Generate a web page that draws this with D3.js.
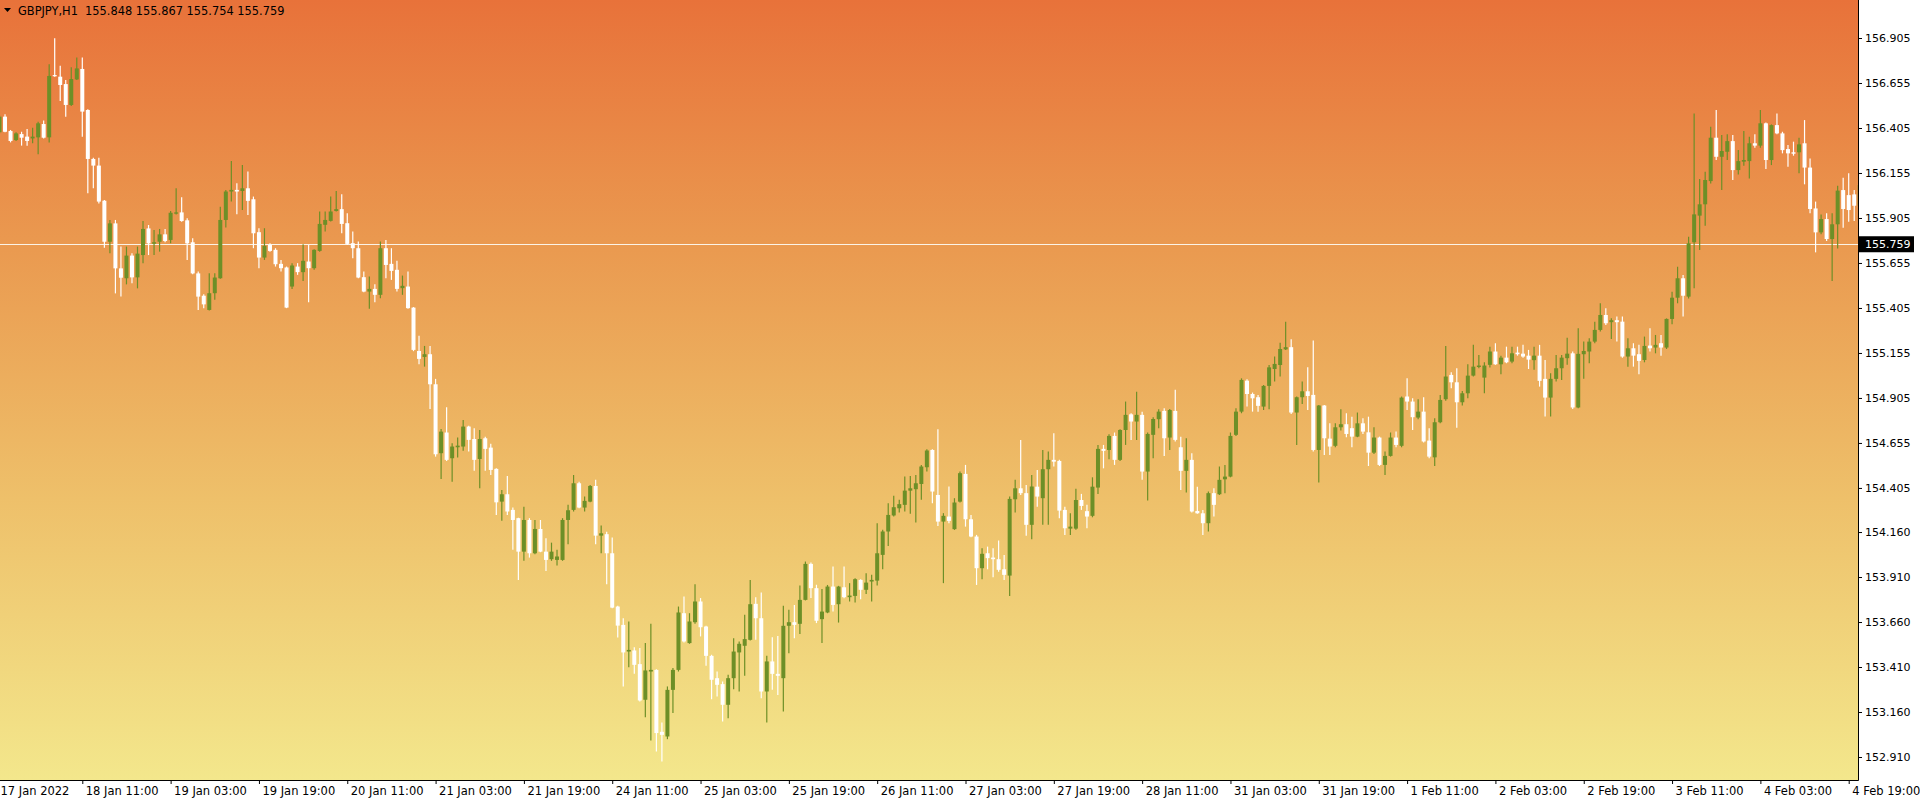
<!DOCTYPE html>
<html>
<head>
<meta charset="utf-8">
<script src="https://cdn.jsdelivr.net/npm/d3@7"></script>
<style>
  html, body { margin: 0; padding: 0; background: #ffffff; }
  svg { display: block; }
</style>
</head>
<body>
<svg id="chart" width="1920" height="802"></svg>
<script>
// #region data (GBPJPY H1, one entry per bar)
const symbolTitle = "GBPJPY,H1";
const lastBar = [155.848, 155.867, 155.754, 155.759];
const currentPrice = 155.759;

const opens = [
  156.381,156.468,156.388,156.338,156.371,156.357,156.347,156.353,156.427,156.353,
  156.699,156.690,156.649,156.533,156.675,156.733,156.505,156.233,156.196,156.001,
  155.773,155.875,155.625,155.570,155.696,155.575,155.699,155.847,155.762,155.773,
  155.814,155.783,155.929,155.936,155.892,155.770,155.597,155.473,
  155.394,155.487,155.570,155.894,156.052,156.061,156.055,156.070,156.009,155.826,
  155.685,155.755,155.728,155.650,155.630,155.524,155.635,155.604,155.663,155.626,
  155.722,155.867,155.889,155.944,155.954,155.876,155.765,155.737,155.576,155.496,
  155.511,155.478,155.737,155.650,155.617,155.515,155.524,155.407,
  155.166,155.133,155.148,154.981,154.598,154.713,154.570,154.631,154.635,154.746,
  154.677,154.566,154.681,154.629,154.511,154.329,154.370,154.283,154.237,154.051,
  154.227,154.042,154.177,154.051,154.009,154.005,154.005,154.227,154.283,154.431,
  154.296,154.329,154.416,154.140,154.148,154.042,153.746,
  153.644,153.496,153.502,153.426,153.228,153.385,153.394,153.050,153.024,153.283,
  153.394,153.709,153.543,153.659,153.774,153.635,153.472,153.348,153.315,153.200,
  153.348,153.491,153.528,153.561,153.761,153.681,153.274,153.441,153.372,153.348,
  153.639,153.659,153.650,153.783,153.983,153.848,153.676,153.713,
  153.857,153.759,153.853,153.798,153.805,153.894,153.839,153.885,153.890,154.033,
  154.163,154.252,154.292,154.311,154.390,154.398,154.427,154.520,154.616,154.366,
  154.218,154.246,154.176,154.329,154.483,154.231,154.135,153.959,154.042,154.018,
  154.009,153.953,153.918,154.342,154.403,154.376,154.200,
  154.412,154.348,154.509,154.561,154.555,154.283,154.179,154.179,154.338,154.276,
  154.250,154.407,154.622,154.616,154.694,154.561,154.727,154.814,154.774,154.811,
  154.496,154.700,154.787,154.833,154.685,154.833,154.631,154.500,154.561,154.277,
  154.264,154.209,154.376,154.370,154.453,154.468,154.700,154.829,
  155.001,154.927,154.909,154.857,154.972,155.066,155.088,155.175,155.187,154.824,
  154.909,154.942,154.922,154.616,154.863,154.679,154.639,154.742,154.759,154.737,
  154.690,154.764,154.714,154.601,154.685,154.533,154.583,154.685,154.639,154.913,
  154.885,154.796,154.829,154.668,154.575,154.770,154.898,
  155.033,154.992,154.881,154.931,155.029,155.077,155.018,155.089,155.163,155.092,
  155.129,155.107,155.157,155.151,155.140,155.115,155.140,155.011,154.907,155.011,
  155.070,155.126,155.153,154.852,155.148,155.163,155.218,155.283,155.366,155.326,
  155.337,155.329,155.135,155.181,155.148,155.116,155.196,155.185,
  155.209,155.185,155.344,155.462,155.570,155.468,155.770,155.918,155.981,156.110,
  156.351,156.245,156.273,156.332,156.171,156.218,156.221,156.320,156.307,156.431,
  156.227,156.421,156.375,156.288,156.270,156.270,156.320,156.185,155.958,155.825,
  155.899,155.788,155.870,156.060,156.032,156.036,155.973
];

const highs = [
  156.477,156.481,156.394,156.381,156.384,156.399,156.407,156.440,156.446,156.759,
  156.903,156.751,156.671,156.742,156.797,156.797,156.509,156.240,156.240,156.005,
  155.894,155.894,155.746,155.746,155.709,155.746,155.888,155.866,155.838,155.844,
  155.844,155.944,156.070,156.020,155.903,155.792,155.607,155.481,
  155.598,155.598,155.968,156.061,156.222,156.098,156.200,156.163,156.024,155.848,
  155.848,155.765,155.737,155.672,155.635,155.654,155.654,155.759,155.755,155.731,
  155.941,155.941,156.024,156.055,156.037,155.931,155.830,155.774,155.607,155.580,
  155.537,155.774,155.783,155.737,155.667,155.585,155.607,155.410,
  155.251,155.194,155.194,155.011,154.733,154.853,154.653,154.685,154.783,154.750,
  154.737,154.727,154.690,154.650,154.515,154.394,154.472,154.296,154.240,154.301,
  154.237,154.227,154.227,154.126,154.101,154.061,154.237,154.311,154.477,154.440,
  154.357,154.422,154.450,154.196,154.162,154.129,153.751,
  153.681,153.663,153.520,153.515,153.543,153.650,153.398,153.102,153.302,153.404,
  153.746,153.802,153.709,153.870,153.793,153.639,153.478,153.385,153.330,153.367,
  153.570,153.552,153.700,153.894,153.798,153.824,153.472,153.576,153.583,153.750,
  153.728,153.755,153.863,153.996,153.991,153.867,153.843,153.866,
  153.968,153.861,153.968,153.876,153.903,153.898,153.931,153.922,154.209,154.172,
  154.320,154.361,154.339,154.468,154.472,154.477,154.533,154.620,154.620,154.731,
  154.265,154.413,154.348,154.496,154.533,154.255,154.144,154.070,154.079,154.070,
  154.113,154.033,154.357,154.450,154.672,154.422,154.477,
  154.505,154.616,154.607,154.709,154.561,154.301,154.264,154.400,154.372,154.311,
  154.464,154.644,154.644,154.703,154.713,154.731,154.885,154.820,154.940,154.829,
  154.713,154.798,154.842,154.848,154.844,154.950,154.690,154.681,154.598,154.412,
  154.283,154.385,154.403,154.524,154.533,154.713,154.848,155.014,
  155.009,154.935,154.922,154.977,155.088,155.135,155.212,155.329,155.231,154.913,
  154.996,155.075,155.224,154.866,154.866,154.764,154.764,154.842,154.820,154.801,
  154.824,154.792,154.801,154.742,154.690,154.607,154.713,154.718,154.913,155.014,
  154.903,154.898,154.909,154.737,154.792,154.922,155.194,
  155.048,155.070,154.944,155.092,155.200,155.144,155.103,155.190,155.209,155.140,
  155.190,155.190,155.190,155.200,155.172,155.190,155.200,155.116,155.042,155.144,
  155.144,155.240,155.163,155.292,155.218,155.237,155.329,155.431,155.403,155.348,
  155.357,155.357,155.237,155.209,155.200,155.246,155.292,155.255,
  155.255,155.347,155.495,155.634,155.588,155.801,156.486,156.121,156.162,156.412,
  156.505,156.366,156.370,156.366,156.282,156.388,156.357,156.370,156.505,156.436,
  156.425,156.486,156.384,156.310,156.329,156.351,156.449,156.236,155.996,155.925,
  155.931,155.931,156.084,156.129,156.153,156.060,156.116
];

const lows = [
  156.375,156.381,156.325,156.333,156.307,156.307,156.320,156.259,156.347,156.325,
  156.690,156.555,156.468,156.527,156.671,156.357,156.042,156.070,155.986,155.740,
  155.709,155.486,155.468,155.536,155.542,155.514,155.653,155.699,155.699,155.718,
  155.770,155.764,155.925,155.884,155.671,155.592,155.394,155.403,
  155.391,155.450,155.567,155.852,155.996,155.926,155.950,155.922,155.737,155.626,
  155.672,155.718,155.635,155.607,155.404,155.511,155.589,155.555,155.437,155.617,
  155.718,155.830,155.885,155.941,155.820,155.755,155.681,155.570,155.492,155.400,
  155.437,155.459,155.570,155.561,155.496,155.478,155.400,155.165,
  155.092,155.079,154.844,154.579,154.455,154.555,154.440,154.574,154.611,154.607,
  154.500,154.403,154.500,154.477,154.255,154.222,154.255,154.061,153.894,154.000,
  154.018,154.037,154.048,153.944,154.000,153.974,154.000,154.092,154.274,154.292,
  154.274,154.325,154.092,154.042,153.870,153.737,153.574,
  153.302,153.409,153.372,153.218,153.131,153.002,152.941,152.885,153.009,153.154,
  153.385,153.546,153.539,153.650,153.580,153.417,153.231,153.246,153.107,153.126,
  153.287,153.274,153.361,153.557,153.561,153.237,153.102,153.283,153.255,153.163,
  153.487,153.570,153.594,153.780,153.793,153.654,153.543,153.709,
  153.718,153.657,153.792,153.774,153.768,153.787,153.816,153.774,153.863,153.953,
  154.083,154.246,154.268,154.274,154.261,154.213,154.339,154.496,154.320,154.194,
  153.876,154.209,154.172,154.324,154.190,154.131,153.866,153.898,153.953,153.909,
  153.940,153.894,153.805,154.268,154.366,154.139,154.120,
  154.301,154.200,154.200,154.524,154.237,154.144,154.144,154.172,154.283,154.181,
  154.242,154.372,154.514,154.564,154.533,154.555,154.644,154.672,154.672,154.450,
  154.335,154.570,154.737,154.583,154.616,154.663,154.394,154.379,154.268,154.261,
  154.144,154.163,154.246,154.366,154.376,154.464,154.694,154.820,
  154.857,154.829,154.829,154.838,154.842,154.996,155.024,155.172,154.816,154.644,
  154.872,154.838,154.607,154.435,154.588,154.588,154.631,154.724,154.687,154.631,
  154.687,154.705,154.527,154.594,154.527,154.477,154.579,154.631,154.631,154.838,
  154.727,154.787,154.657,154.570,154.527,154.764,154.890,
  154.959,154.740,154.863,154.903,155.024,155.070,154.931,155.074,155.089,155.037,
  155.098,155.098,155.140,155.129,155.066,155.061,154.968,154.802,154.802,154.996,
  155.005,155.089,154.844,154.848,155.011,155.098,155.209,155.274,155.311,155.233,
  155.218,155.129,155.079,155.079,155.037,155.103,155.163,155.153,
  155.140,155.177,155.314,155.431,155.357,155.458,155.514,155.727,155.862,156.097,
  156.227,156.060,156.227,156.116,156.147,156.195,156.125,156.295,156.295,156.177,
  156.199,156.370,156.264,156.190,156.251,156.153,156.092,155.931,155.714,155.814,
  155.777,155.555,155.736,155.851,155.884,155.888,155.955
];

const closes = [
  156.468,156.384,156.333,156.375,156.351,156.333,156.357,156.431,156.351,156.694,
  156.694,156.644,156.533,156.677,156.736,156.496,156.233,156.196,155.996,155.773,
  155.875,155.625,155.573,155.696,155.575,155.707,155.844,155.764,155.770,155.814,
  155.777,155.934,155.936,155.888,155.764,155.597,155.468,155.425,
  155.487,155.574,155.894,156.052,156.061,156.052,156.070,156.000,155.820,155.685,
  155.750,155.722,155.648,155.626,155.407,155.641,155.604,155.667,155.626,155.728,
  155.872,155.894,155.941,155.954,155.872,155.761,155.737,155.574,155.496,155.511,
  155.478,155.737,155.644,155.611,155.511,155.528,155.404,155.172,
  155.122,155.148,154.981,154.592,154.718,154.561,154.635,154.640,154.746,154.672,
  154.561,154.677,154.622,154.505,154.325,154.370,154.274,154.227,154.051,154.227,
  154.042,154.177,154.051,154.005,154.051,154.024,154.227,154.281,154.431,154.296,
  154.333,154.416,154.140,154.153,154.042,153.740,153.640,
  153.491,153.505,153.422,153.224,153.391,153.394,153.043,153.033,153.283,153.394,
  153.713,153.552,153.663,153.774,153.631,153.472,153.339,153.311,153.200,153.348,
  153.496,153.539,153.565,153.759,153.681,153.274,153.441,153.372,153.361,153.639,
  153.659,153.644,153.783,153.983,153.848,153.667,153.718,153.857,
  153.755,153.857,153.798,153.807,153.898,153.839,153.879,153.894,154.042,154.163,
  154.255,154.298,154.315,154.390,154.403,154.431,154.524,154.613,154.385,154.218,
  154.250,154.222,154.324,154.487,154.231,154.135,153.959,154.039,154.015,154.009,
  153.950,153.922,154.344,154.403,154.376,154.200,154.413,
  154.357,154.509,154.561,154.551,154.279,154.181,154.190,154.338,154.305,154.246,
  154.412,154.622,154.611,154.694,154.561,154.727,154.811,154.774,154.811,154.496,
  154.705,154.788,154.829,154.681,154.838,154.672,154.500,154.561,154.274,154.264,
  154.209,154.376,154.311,154.450,154.468,154.694,154.829,155.005,
  154.927,154.903,154.861,154.972,155.075,155.094,155.177,155.187,154.824,154.909,
  154.942,154.916,154.616,154.863,154.681,154.635,154.742,154.759,154.705,154.690,
  154.764,154.718,154.601,154.685,154.533,154.583,154.685,154.644,154.907,154.885,
  154.798,154.829,154.663,154.579,154.770,154.894,155.024,
  154.992,154.881,154.931,155.029,155.079,155.085,155.085,155.163,155.092,155.129,
  155.103,155.153,155.148,155.135,155.118,155.140,155.000,154.907,155.011,155.070,
  155.129,155.151,154.852,155.150,155.166,155.218,155.283,155.366,155.320,155.337,
  155.326,155.135,155.181,155.140,155.111,155.194,155.181,155.200,
  155.185,155.344,155.462,155.570,155.473,155.764,155.925,155.981,156.116,156.351,
  156.245,156.277,156.332,156.171,156.221,156.227,156.320,156.307,156.431,156.227,
  156.421,156.375,156.282,156.264,156.262,156.314,156.185,155.955,155.825,155.899,
  155.788,155.870,156.057,155.955,155.949,155.973,156.088
];

// price axis labels (right)
const priceTicks = [156.905, 156.655, 156.405, 156.155, 155.905, 155.655, 155.405, 155.155,
  154.905, 154.655, 154.405, 154.160, 153.910, 153.660, 153.410, 153.160, 152.910];

// time axis labels (bottom), one every 16 bars
const timeLabels = ["17 Jan 2022", "18 Jan 11:00", "19 Jan 03:00", "19 Jan 19:00", "20 Jan 11:00",
  "21 Jan 03:00", "21 Jan 19:00", "24 Jan 11:00", "25 Jan 03:00", "25 Jan 19:00", "26 Jan 11:00",
  "27 Jan 03:00", "27 Jan 19:00", "28 Jan 11:00", "31 Jan 03:00", "31 Jan 19:00", "1 Feb 11:00",
  "2 Feb 03:00", "2 Feb 19:00", "3 Feb 11:00", "4 Feb 03:00", "4 Feb 19:00"];
const timeLabelBars = [0, 15, 31, 47, 63, 79, 95, 111, 127, 143, 159, 175, 191, 207, 223, 239,
  255, 271, 287, 303, 319, 335];
// #endregion


// #region layout
const WIDTH = 1920,
  HEIGHT = 802,
  PLOT_RIGHT = 1858,
  PLOT_BOTTOM = 780,
  BAR_STEP = 5.52,
  BODY_W = 4,
  BULL = "#6d8f27",
  BEAR = "#ffffff",
  FONT = "DejaVu Sans";

const bars = opens.map((o, i) => ({ i: i, o: o, h: highs[i], l: lows[i], c: closes[i] }));

const vis = d3.select("#chart");

const xRange = d3.scaleLinear()
  .domain([0, bars.length - 1])
  .range([-0.5, -0.5 + BAR_STEP * (bars.length - 1)]);

const yRange = d3.scaleLinear()
  .domain([152.910, 156.905])
  .range([757, 38]);
// #endregion


// background gradient
const defs = vis.append("defs");
const grad = defs.append("linearGradient")
  .attr("id", "bgGrad")
  .attr("x1", 0).attr("y1", 0).attr("x2", 0).attr("y2", 1);
[[0, "#e8723a"], [0.32, "#ea9a50"], [0.64, "#eec06a"], [1, "#f3e78c"]].forEach(s => {
  grad.append("stop").attr("offset", s[0]).attr("stop-color", s[1]);
});

defs.append("clipPath").attr("id", "plotClip")
  .append("rect").attr("x", 0).attr("y", 0).attr("width", PLOT_RIGHT).attr("height", PLOT_BOTTOM);

vis.append("rect")
  .attr("x", 0).attr("y", 0)
  .attr("width", PLOT_RIGHT).attr("height", PLOT_BOTTOM)
  .attr("fill", "url(#bgGrad)");

const plot = vis.append("g").attr("clip-path", "url(#plotClip)");

// current price line
plot.append("line")
  .attr("x1", 0).attr("x2", PLOT_RIGHT)
  .attr("y1", Math.round(yRange(currentPrice)) + 0.5)
  .attr("y2", Math.round(yRange(currentPrice)) + 0.5)
  .attr("stroke", "#fbf3e6")
  .attr("stroke-width", 1);

// candles
const candle = plot.selectAll("g.candle")
  .data(bars)
  .enter().append("g")
  .attr("class", "candle");

candle.append("line")
  .attr("x1", d => xRange(d.i)).attr("x2", d => xRange(d.i))
  .attr("y1", d => yRange(d.h)).attr("y2", d => yRange(d.l))
  .attr("stroke", d => d.c >= d.o ? BULL : BEAR)
  .attr("stroke-width", 1.2);

candle.append("rect")
  .attr("x", d => xRange(d.i) - BODY_W / 2)
  .attr("width", BODY_W)
  .attr("y", d => yRange(Math.max(d.o, d.c)))
  .attr("height", d => Math.max(1.2, Math.abs(yRange(d.o) - yRange(d.c))))
  .attr("fill", d => d.c >= d.o ? BULL : BEAR);

// append price axis
const yAxis = d3.axisRight(yRange)
  .tickValues(priceTicks)
  .tickFormat(d3.format(".3f"))
  .tickSize(4)
  .tickSizeOuter(0);

const yAxisG = vis.append("g")
  .attr("transform", "translate(" + PLOT_RIGHT + ",0)")
  .call(yAxis);
yAxisG.select(".domain").remove();
yAxisG.selectAll("text").attr("font-family", FONT).attr("font-size", 11).attr("fill", "#000");
yAxisG.selectAll("line").attr("stroke", "#000");

// append time axis
const xAxis = d3.axisBottom(xRange)
  .tickValues(timeLabelBars)
  .tickFormat((d, i) => timeLabels[i])
  .tickSize(4)
  .tickSizeOuter(0);

const xAxisG = vis.append("g")
  .attr("transform", "translate(0," + PLOT_BOTTOM + ")")
  .call(xAxis);
xAxisG.select(".domain").remove();
xAxisG.selectAll("text")
  .attr("font-family", FONT).attr("font-size", 11.5).attr("fill", "#000")
  .attr("text-anchor", "start")
  .attr("x", (d, i) => i === 0 ? 0.5 : 3);
xAxisG.selectAll(".tick").filter((d, i) => i === 0).select("line").remove();
xAxisG.selectAll("line").attr("stroke", "#000");

// frame lines
vis.append("line")
  .attr("x1", PLOT_RIGHT + 0.5).attr("x2", PLOT_RIGHT + 0.5)
  .attr("y1", 0).attr("y2", PLOT_BOTTOM + 0.5)
  .attr("stroke", "#000");
vis.append("line")
  .attr("x1", 0).attr("x2", PLOT_RIGHT + 0.5)
  .attr("y1", PLOT_BOTTOM + 0.5).attr("y2", PLOT_BOTTOM + 0.5)
  .attr("stroke", "#000");

// current price box
const cpY = yRange(currentPrice);
vis.append("rect")
  .attr("x", PLOT_RIGHT + 1).attr("y", cpY - 8)
  .attr("width", 55).attr("height", 16)
  .attr("fill", "#000");
vis.append("text")
  .attr("x", PLOT_RIGHT + 7).attr("y", cpY + 4)
  .attr("font-family", FONT).attr("font-size", 11)
  .attr("fill", "#fff")
  .text(d3.format(".3f")(currentPrice));

// header
vis.append("path")
  .attr("d", "M4,8 L11,8 L7.5,12 Z")
  .attr("fill", "#000");
vis.append("text")
  .attr("x", 18).attr("y", 15)
  .attr("font-family", FONT).attr("font-size", 11.4)
  .attr("fill", "#000")
  .style("white-space", "pre")
  .text(symbolTitle + "  " + lastBar.map(d3.format(".3f")).join(" "));
</script>
</body>
</html>
